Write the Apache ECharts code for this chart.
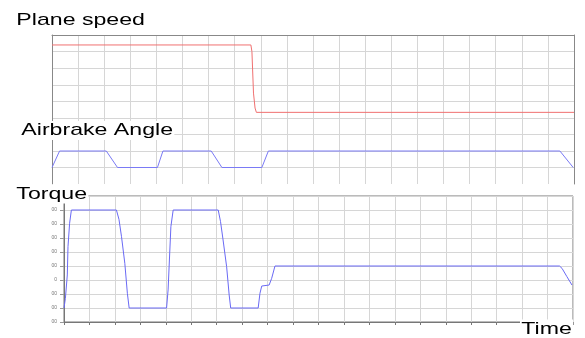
<!DOCTYPE html>
<html><head><meta charset="utf-8">
<script src="https://cdn.jsdelivr.net/npm/echarts@6/dist/echarts.min.js"></script>
<style>html,body{margin:0;padding:0;background:#fff}#c{width:585px;height:338px}</style>
</head><body><div id="c"></div>
<script>
const panelTitles = ['Plane speed', 'Airbrake Angle', 'Torque'];
const xAxisTitle = 'Time';
const planeSpeed = [[0,4.4],[7.62,4.4],[7.66,4.0],[7.72,1.5],[7.78,0.6],[7.83,0.34],[20,0.34]];
const airbrakeAngle = [[0,1],[0.29,2],[2.08,2],[2.51,1],[4.04,1],[4.25,2],[6.10,2],[6.51,1],[8.04,1],[8.29,2],[19.46,2],[19.97,1]];
const torque = [[0,-2],[0.055,-1.31],[0.13,0.36],[0.157,2.38],[0.22,4.05],[0.29,5],[2.06,5],[2.16,4.33],[2.26,3.09],[2.39,1.19],[2.49,-0.95],[2.56,-2],[4.03,-2],[4.09,-0.71],[4.20,3.81],[4.29,5],[6.06,5],[6.15,4.17],[6.25,2.86],[6.39,0.95],[6.49,-1.07],[6.55,-2],[7.63,-2],[7.70,-0.95],[7.77,-0.43],[8.06,-0.36],[8.16,0.12],[8.29,1],[19.47,1],[19.57,0.83],[19.76,0.24],[19.96,-0.36]];
const torqueTicks = [-3,-2,-1,0,1,2,3,4,5,6];
const torqueTickLabels = ['00','00','00','0','00','00','00','00','00','00'];

const gridColor = '#d6d6d6';
const axisColor = '#888';
const chart = echarts.init(document.getElementById('c'), null, {renderer: 'canvas'});

function xAx(gi, extra) {
  return Object.assign({
    gridIndex: gi, type: 'value', min: 0, max: 20, interval: 1,
    axisLine: {show: false, onZero: false}, axisTick: {show: false}, axisLabel: {show: false},
    splitLine: {show: true, lineStyle: {color: gridColor, width: 1}}
  }, extra || {});
}
function yAx(gi, min, max, extra) {
  return Object.assign({
    gridIndex: gi, type: 'value', min: min, max: max, interval: 1,
    axisLine: {show: true, onZero: false, lineStyle: {color: axisColor}}, axisTick: {show: false}, axisLabel: {show: false},
    splitLine: {show: true, lineStyle: {color: gridColor, width: 1}}
  }, extra || {});
}
function titleText(txt, x, y) {
  return {
    type: 'text', x: x, y: y, scaleX: 1.36, z: 100,
    style: {text: txt, x: 0, y: 0, font: '17px "Liberation Sans", Arial, sans-serif', fill: '#000',
      align: 'left', verticalAlign: 'middle', backgroundColor: '#fff', padding: [1, 1]}
  };
}

chart.setOption({
  animation: false,
  backgroundColor: '#fff',
  grid: [
    {left: 52, right: 11, top: 35, height: 83},
    {left: 52, right: 11, top: 118, height: 66},
    {left: 64, right: 12, top: 196, height: 126, show: true, borderColor: '#777', borderWidth: 1}
  ],
  xAxis: [
    xAx(0, {position: 'top', axisLine: {show: true, onZero: false, lineStyle: {color: axisColor}}}),
    xAx(1, {position: 'bottom'}),
    xAx(2, {position: 'bottom', axisLine: {show: true, onZero: false, lineStyle: {color: '#777'}},
      axisTick: {show: true, length: 3, lineStyle: {color: '#777'}}})
  ],
  yAxis: [
    yAx(0, 0, 5),
    yAx(1, 0, 4, {splitLine: {show: true, showMinLine: false, lineStyle: {color: gridColor, width: 1}}}),
    yAx(2, -3, 6, {axisLine: {show: true, onZero: false, lineStyle: {color: '#777'}},
      axisTick: {show: true, length: 4, lineStyle: {color: '#999'}},
      axisLabel: {show: true, fontSize: 5, color: '#777', margin: 7,
        formatter: v => torqueTickLabels[torqueTicks.indexOf(v)] || ''}}),
    yAx(0, 0, 5, {position: 'right', splitLine: {show: false}}),
    yAx(1, 0, 4, {position: 'right', splitLine: {show: false}})
  ],
  series: [
    {type: 'line', xAxisIndex: 0, yAxisIndex: 0, data: planeSpeed, showSymbol: false,
      lineStyle: {color: '#f07070', width: 1}, itemStyle: {color: '#f07070'}},
    {type: 'line', xAxisIndex: 1, yAxisIndex: 1, data: airbrakeAngle, showSymbol: false,
      lineStyle: {color: '#7a7af5', width: 1}, itemStyle: {color: '#7a7af5'}},
    {type: 'line', xAxisIndex: 2, yAxisIndex: 2, data: torque, showSymbol: false,
      lineStyle: {color: '#6a6af5', width: 1}, itemStyle: {color: '#6a6af5'}}
  ],
  graphic: [
    titleText(panelTitles[0], 15, 20),
    titleText(panelTitles[1], 20, 130.5),
    titleText(panelTitles[2], 15, 194),
    titleText(xAxisTitle, 520, 329)
  ]
});
</script></body></html>
